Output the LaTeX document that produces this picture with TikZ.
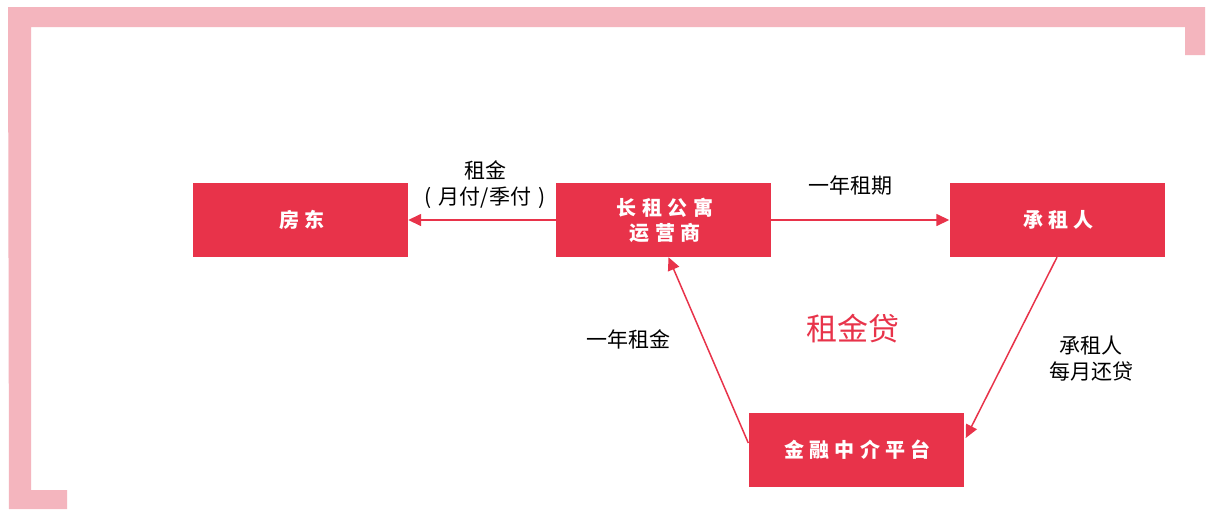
\documentclass[tikz,border=0pt]{standalone}
\usepackage{fontspec}
\setmainfont{Noto Sans CJK SC}
\newfontfamily\boxfont[LetterSpace=27]{Noto Sans CJK SC}
\usetikzlibrary{arrows.meta,calc}
\definecolor{redbox}{HTML}{E8334A}
\definecolor{pinkframe}{HTML}{F4B5BE}
\tikzset{
  redrect/.style={rectangle, fill=redbox, minimum width=215pt, minimum height=74pt, inner sep=0pt,
    text=white, align=center, font=\boxfont\bfseries\fontsize{20}{25}\selectfont},
  flow/.style={draw=redbox, line width=1.5pt, -{Triangle[length=13pt,width=12pt]}},
  lbl/.style={align=center, inner sep=0pt, font=\fontsize{21}{26}\selectfont},
}
\begin{document}
\begin{tikzpicture}[x=1pt,y=-1pt]
\useasboundingbox (0,0) rectangle (1216,509);
\fill[white] (0,0) rectangle (1216,509);
% frame
\fill[pinkframe] (8,7) -- (1205,7) -- (1205,55) -- (1185,55) -- (1185,27) -- (31,27) -- (31,490) -- (67,490) -- (67,509) -- (9,509) -- cycle;
% boxes
\node[redrect] (fang) at (300.5,220) {\hspace{3pt}房东};
\node[redrect] (yun) at (663.5,220) {\hspace{3pt}长租公寓\\\hspace{3pt}运营商};
\node[redrect] (cheng) at (1057,220) {\hspace{3pt}承租人};
\node[redrect] (jin) at (856,450) {\hspace{3pt}金融中介平台};
% connectors
\draw[flow] (yun.west) -- (fang.east);
\draw[flow] (yun.east) -- (cheng.west);
\coordinate (jinA) at ($(jin.west)+(0,-7)$);
\coordinate (yunB) at ($(yun.south)+(5,0)$);
\draw[flow] (jinA) -- (yunB);
\coordinate (jinB) at ($(jin.east)+(2,-12)$);
\draw[flow] (cheng.south) -- (jinB);
% labels
\node[lbl] (l1) at (485,185) {租金\\(\hspace{7pt}月付/季付\hspace{7pt})};
\node[lbl] (l2) at (850,186) {一年租期};
\node[lbl] (l3) at (628,339) {一年租金};
\node[lbl, text=redbox, font=\fontsize{31}{34}\selectfont] (l4) at (853,329) {租金贷};
\node[lbl] (l5) at (1091,359) {承租人\\每月还贷};
\end{tikzpicture}
\end{document}
